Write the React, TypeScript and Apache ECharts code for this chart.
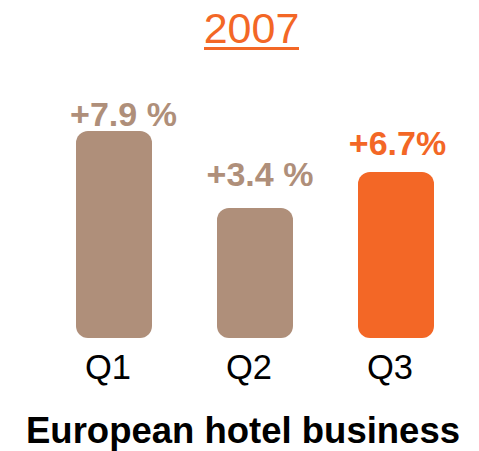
import React, { useEffect, useRef } from "react";
import * as echarts from "echarts";

const title = "2007";
const subtitle = "European hotel business";
const categories = ["Q1", "Q2", "Q3"];
const growthLabels = ["+7.9 %", "+3.4 %", "+6.7%"];
// drawn bar lengths (pixel units)
const barHeights = [207, 130, 166];
const highlighted = [false, false, true];

const BROWN = "#AF8F7A";
const ORANGE = "#F36726";
const FONT = "'Liberation Sans', Arial, Helvetica, sans-serif";

const labelDistance = [17.5, 34.5, 29];
const labelDx = [9.5, 5, 1.5];

export default function App() {
  const ref = useRef<HTMLDivElement>(null);
  useEffect(() => {
    if (!ref.current) return;
    const chart = echarts.init(ref.current, null, { renderer: "svg" });
    chart.setOption({
      animation: false,
      backgroundColor: "#ffffff",
      grid: { left: 43.5, width: 423, top: 38, height: 300 },
      xAxis: {
        type: "category",
        data: categories,
        axisLine: { show: false },
        axisTick: { show: false },
        axisLabel: {
          color: "#000",
          fontFamily: FONT,
          fontSize: 34.5,
          verticalAlign: "middle",
          margin: 29,
          padding: [0, 12, 0, 0],
        },
      },
      yAxis: {
        type: "value",
        min: 0,
        max: 300,
        show: false,
        splitLine: { show: false },
      },
      series: [
        {
          type: "bar",
          barWidth: 76,
          data: barHeights.map((h, i) => ({
            value: h,
            itemStyle: {
              color: highlighted[i] ? ORANGE : BROWN,
              borderRadius: 12,
            },
            label: {
              show: true,
              position: "top",
              distance: labelDistance[i],
              offset: [labelDx[i], 0],
              verticalAlign: "middle",
              formatter: growthLabels[i],
              color: highlighted[i] ? ORANGE : BROWN,
              fontFamily: FONT,
              fontWeight: "bold",
              fontSize: 34,
            },
          })),
        },
      ],
      graphic: [
        {
          type: "text",
          x: 251.5,
          y: 28,
          style: {
            text: title,
            fill: ORANGE,
            font: `43px ${FONT}`,
            align: "center",
            verticalAlign: "middle",
          },
        },
        {
          type: "rect",
          shape: { x: 204, y: 47, width: 95, height: 3 },
          style: { fill: ORANGE },
        },
        {
          type: "text",
          x: 243,
          y: 430,
          style: {
            text: subtitle,
            fill: "#000",
            font: `bold 36.5px ${FONT}`,
            align: "center",
            verticalAlign: "middle",
          },
        },
      ],
    });
    return () => chart.dispose();
  }, []);
  return (
    <div
      ref={ref}
      style={{ position: "fixed", left: 0, top: 0, width: 479, height: 451 }}
    />
  );
}
